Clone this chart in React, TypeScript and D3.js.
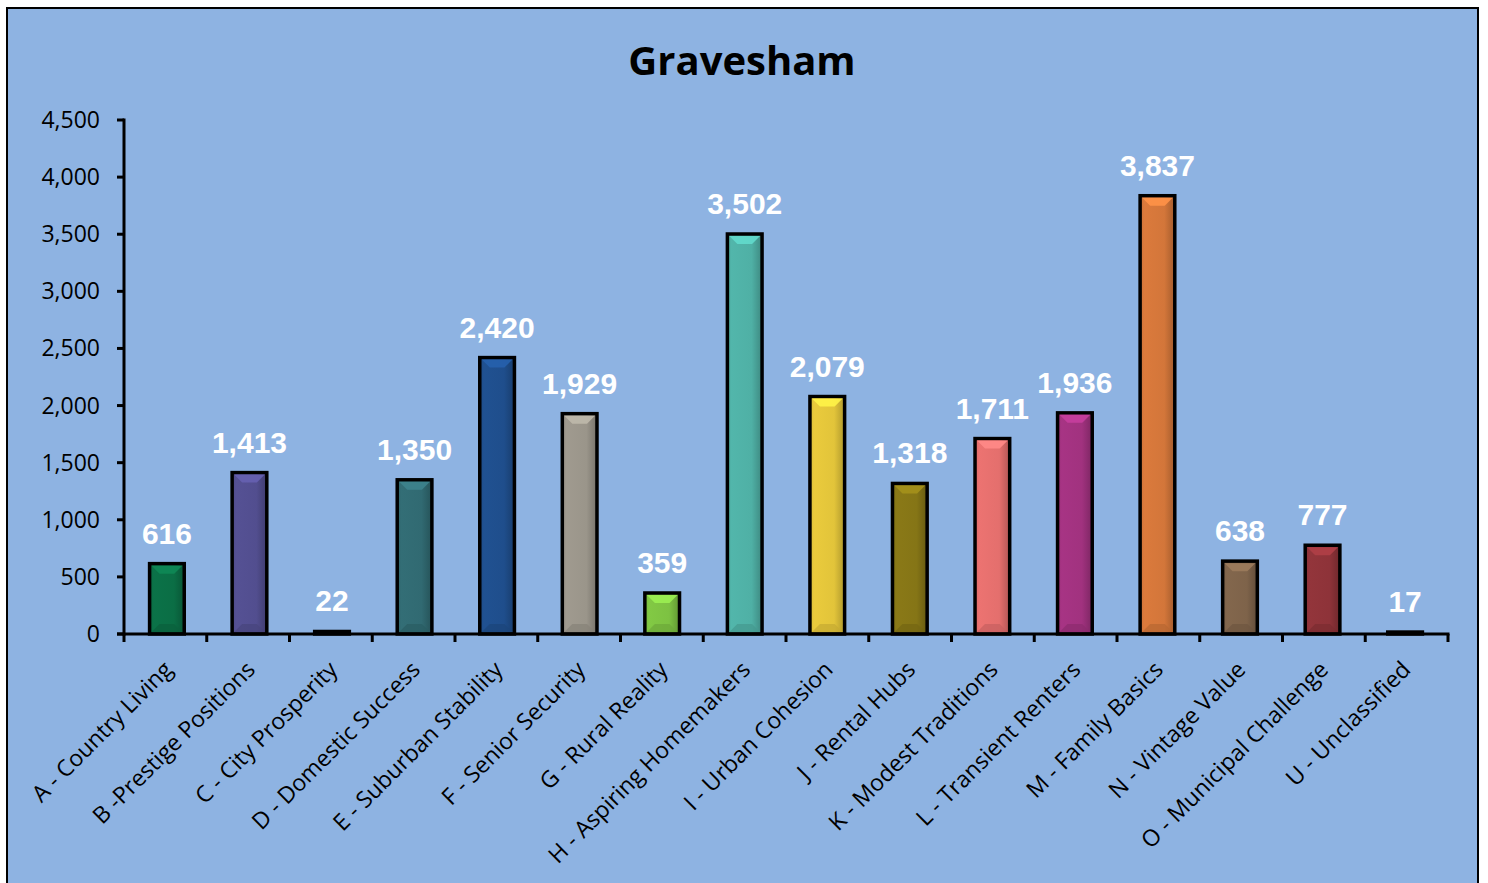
import React from "react";
import * as d3 from "d3";

const categories = [
  "A - Country Living",
  "B -Prestige Positions",
  "C - City Prosperity",
  "D - Domestic Success",
  "E - Suburban Stability",
  "F - Senior Security",
  "G - Rural Reality",
  "H - Aspiring Homemakers",
  "I - Urban Cohesion",
  "J - Rental Hubs",
  "K - Modest Traditions",
  "L - Transient Renters",
  "M - Family Basics",
  "N - Vintage Value",
  "O - Municipal Challenge",
  "U - Unclassified",
];
const values = [616, 1413, 22, 1350, 2420, 1929, 359, 3502, 2079, 1318, 1711, 1936, 3837, 638, 777, 17];
const colors = [
  "#0B6E45", "#524E8F", "#1A1A1A", "#316A72", "#1F4E8C", "#9A958A", "#7DC242", "#4FB0A5",
  "#E2C43A", "#857516", "#E46F6D", "#A1327F", "#D3763A", "#7E634A", "#8E3339", "#1A1A1A",
];
const yTicks = [0, 500, 1000, 1500, 2000, 2500, 3000, 3500, 4000, 4500];
const title = "Gravesham";

export default function App() {
  const W = 1488, H = 883;
  const x0 = 124, x1 = 1448, yTop = 120, yBase = 634;
  const x = d3.scaleBand<string>().domain(categories).range([x0, x1]).paddingInner(0.58).paddingOuter(0.31);
  const y = d3.scaleLinear().domain([0, 4500]).range([yBase, yTop]);
  const fmt = d3.format(",");
  const step = (x1 - x0) / categories.length;
  const bw = x.bandwidth();

  return (
    <svg width={W} height={H} style={{ position: "absolute", left: 0, top: 0, display: "block" }}>
      <defs>
        {colors.map((c, i) => {
          const base = d3.color(c)!;
          return (
            <linearGradient key={i} id={`g${i}`} x1="0" x2="1" y1="0" y2="0">
              <stop offset="0" stopColor={base.darker(0.15).formatHex()} />
              <stop offset="0.12" stopColor={base.brighter(0.1).formatHex()} />
              <stop offset="0.7" stopColor={c} />
              <stop offset="1" stopColor={base.darker(0.7).formatHex()} />
            </linearGradient>
          );
        })}
      </defs>
      <rect x={0} y={0} width={W} height={H} fill="#ffffff" />
      <rect x={7} y={8} width={1471} height={H + 10} fill="#8EB3E2" stroke="#000" strokeWidth={2} />
      <text x={742} y={75} textAnchor="middle" fontFamily="'Open Sans', sans-serif" fontWeight="bold" fontSize={40} fill="#000">
        {title}
      </text>

      {/* bars */}
      {categories.map((c, i) => {
        const bx = x(c)!;
        const by = y(values[i]);
        const h = yBase - by;
        const bev = Math.min(8, h / 2);
        const base = d3.color(colors[i])!;
        return (
          <g key={c}>
            <rect x={bx} y={by} width={bw} height={h} fill={`url(#g${i})`} stroke="#000" strokeWidth={3.5} />
            {h > 12 && (
              <>
                <polygon
                  points={`${bx + 2},${by + 2} ${bx + bw - 2},${by + 2} ${bx + bw - 2 - bev},${by + 2 + bev} ${bx + 2 + bev},${by + 2 + bev}`}
                  fill={base.brighter(0.6).formatHex()}
                  opacity={0.9}
                />
                <polygon
                  points={`${bx + 2},${yBase - 2} ${bx + bw - 2},${yBase - 2} ${bx + bw - 2 - bev},${yBase - 2 - bev} ${bx + 2 + bev},${yBase - 2 - bev}`}
                  fill={base.darker(0.4).formatHex()}
                  opacity={0.7}
                />
              </>
            )}
            <text
              x={bx + bw / 2}
              y={by - 20}
              textAnchor="middle"
              fontFamily="'Liberation Sans', Arial, sans-serif"
              fontWeight="bold"
              fontSize={30}
              fill="#ffffff"
            >
              {fmt(values[i])}
            </text>
          </g>
        );
      })}

      {/* y axis */}
      <line x1={x0} x2={x0} y1={yTop - 1.5} y2={yBase + 1.5} stroke="#000" strokeWidth={3} />
      {yTicks.map((t) => (
        <g key={t}>
          <line x1={x0 - 7} x2={x0} y1={y(t)} y2={y(t)} stroke="#000" strokeWidth={3} />
          <text x={100} y={y(t) + 8} textAnchor="end" fontFamily="'Open Sans', sans-serif" fontSize={23} fill="#000">
            {fmt(t)}
          </text>
        </g>
      ))}

      {/* x axis */}
      <line x1={x0 - 7} x2={x1 + 1.5} y1={yBase} y2={yBase} stroke="#000" strokeWidth={3} />
      {d3.range(categories.length + 1).map((i) => (
        <line key={i} x1={x0 + i * step} x2={x0 + i * step} y1={yBase} y2={yBase + 8} stroke="#000" strokeWidth={3} />
      ))}
      {categories.map((c) => {
        const cx = x(c)! + bw / 2 + 7;
        const cy = yBase + 37;
        return (
          <text
            key={c}
            transform={`translate(${cx},${cy}) rotate(-45)`}
            textAnchor="end"
            fontFamily="'Open Sans', sans-serif"
            fontSize={23}
            fill="#000"
          >
            {c}
          </text>
        );
      })}
    </svg>
  );
}
